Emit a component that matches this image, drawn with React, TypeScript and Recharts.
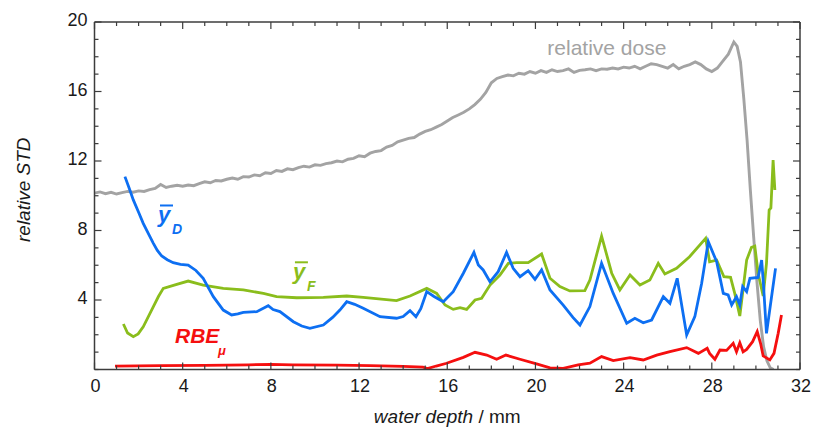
import React from 'react';
import { LineChart, Line, XAxis, YAxis, ReferenceDot, Label } from 'recharts';

// ---- data ----
const doseX = [0, 0.25, 0.5, 0.75, 1.0, 1.25, 1.5, 1.75, 2.0, 2.25, 2.5, 2.75, 3.0, 3.25, 3.5, 3.75, 4.0, 4.25, 4.5, 4.75, 5.0, 5.25, 5.5, 5.75, 6.0, 6.25, 6.5, 6.75, 7.0, 7.25, 7.5, 7.75, 8.0, 8.25, 8.5, 8.75, 9.0, 9.25, 9.5, 9.75, 10.0, 10.25, 10.5, 10.75, 11.0, 11.25, 11.5, 11.75, 12.0, 12.25, 12.5, 12.75, 13.0, 13.25, 13.5, 13.75, 14.0, 14.25, 14.5, 14.75, 15.0, 15.25, 15.5, 15.75, 16.0, 16.25, 16.5, 16.75, 17.0, 17.25, 17.5, 17.75, 18.0, 18.25, 18.5, 18.75, 19.0, 19.25, 19.5, 19.75, 20.0, 20.25, 20.5, 20.75, 21.0, 21.25, 21.5, 21.75, 22.0, 22.25, 22.5, 22.75, 23.0, 23.25, 23.5, 23.75, 24.0, 24.25, 24.5, 24.75, 25.0, 25.25, 25.5, 25.75, 26.0, 26.25, 26.5, 26.75, 27.0, 27.25, 27.5, 27.75, 28.0, 28.25, 28.5, 28.75, 29.0, 29.15, 29.3, 29.45, 29.6, 29.75, 29.9, 30.05, 30.2, 30.35, 30.5, 30.65, 30.8];
const doseY = [10.15, 10.22, 10.12, 10.2, 10.1, 10.18, 10.25, 10.2, 10.28, 10.25, 10.35, 10.42, 10.65, 10.48, 10.55, 10.6, 10.55, 10.62, 10.58, 10.7, 10.8, 10.75, 10.88, 10.85, 10.95, 11.02, 10.95, 11.1, 11.08, 11.2, 11.15, 11.32, 11.28, 11.45, 11.4, 11.55, 11.5, 11.62, 11.7, 11.65, 11.78, 11.75, 11.85, 11.9, 12.0, 11.95, 12.1, 12.15, 12.3, 12.25, 12.45, 12.55, 12.6, 12.8, 12.9, 13.1, 13.2, 13.3, 13.35, 13.55, 13.7, 13.8, 13.95, 14.1, 14.3, 14.5, 14.65, 14.8, 15.0, 15.25, 15.55, 15.95, 16.5, 16.75, 16.85, 16.95, 16.9, 17.05, 17.0, 17.15, 17.05, 17.2, 17.1, 17.25, 17.15, 17.2, 17.3, 17.1, 17.22, 17.25, 17.3, 17.2, 17.3, 17.28, 17.35, 17.3, 17.4, 17.35, 17.45, 17.3, 17.45, 17.6, 17.55, 17.45, 17.35, 17.55, 17.3, 17.45, 17.55, 17.7, 17.55, 17.3, 17.15, 17.35, 17.75, 18.15, 18.85, 18.6, 17.7, 15.6, 13.2, 10.3, 7.6, 5.0, 2.8, 1.3, 0.5, 0.1, 0];

const yDX = [1.38, 1.57, 1.76, 2.0, 2.21, 2.45, 2.67, 2.85, 3.05, 3.3, 3.57, 3.9, 4.25, 4.6, 4.93, 5.39, 5.84, 6.22, 6.5, 6.75, 7.36, 7.88, 8.1, 8.41, 9.02, 9.4, 9.77, 10.38, 10.8, 11.13, 11.44, 11.8, 12.19, 12.95, 13.7, 14.0, 14.31, 14.58, 14.8, 15.07, 15.4, 15.82, 16.27, 16.73, 17.21, 17.41, 17.63, 17.94, 18.31, 18.69, 18.99, 19.3, 19.67, 19.98, 20.28, 20.66, 21.26, 21.7, 22.02, 22.47, 23.0, 23.53, 24.14, 24.51, 24.89, 25.27, 25.8, 26.1, 26.43, 26.86, 27.23, 27.54, 27.84, 28.22, 28.52, 28.74, 28.9, 29.12, 29.27, 29.4, 29.58, 29.73, 30.1, 30.26, 30.33, 30.48, 30.71, 30.89];
const yDY = [11.1, 10.45, 9.76, 9.05, 8.41, 7.8, 7.26, 6.85, 6.53, 6.32, 6.15, 6.05, 6.01, 5.7, 5.25, 4.19, 3.42, 3.14, 3.2, 3.29, 3.33, 3.67, 3.45, 3.33, 2.75, 2.5, 2.37, 2.56, 3.0, 3.42, 3.9, 3.75, 3.52, 3.04, 2.95, 3.05, 3.39, 3.04, 3.5, 4.48, 4.2, 3.9, 4.48, 5.54, 6.74, 6.01, 5.73, 5.05, 5.63, 6.74, 5.82, 5.34, 5.69, 5.19, 5.73, 4.58, 3.71, 3.0, 2.56, 3.62, 6.11, 4.38, 2.66, 2.95, 2.69, 2.85, 4.19, 3.81, 5.25, 1.99, 3.04, 4.96, 7.36, 6.2, 4.38, 4.29, 3.71, 4.19, 3.71, 4.77, 4.48, 5.25, 5.3, 6.3, 5.15, 2.08, 4.19, 5.82];

const yFX = [1.31, 1.5, 1.76, 1.98, 2.21, 2.67, 2.9, 3.12, 3.73, 4.25, 4.93, 5.84, 6.75, 7.66, 8.26, 9.17, 10.38, 11.44, 12.19, 13.7, 14.31, 15.07, 15.52, 15.9, 16.27, 16.58, 16.88, 17.26, 17.56, 17.94, 18.39, 18.77, 19.15, 19.67, 20.28, 20.66, 21.11, 21.56, 22.24, 22.47, 23.0, 23.46, 23.83, 24.29, 24.74, 25.19, 25.57, 25.87, 26.4, 26.99, 27.72, 27.9, 28.22, 28.55, 28.85, 29.04, 29.27, 29.58, 29.8, 29.95, 30.1, 30.33, 30.48, 30.6, 30.68, 30.78, 30.86];
const yFY = [2.62, 2.1, 1.89, 2.05, 2.46, 3.62, 4.2, 4.67, 4.9, 5.09, 4.86, 4.67, 4.58, 4.38, 4.19, 4.13, 4.15, 4.23, 4.15, 3.96, 4.23, 4.67, 4.38, 3.71, 3.46, 3.56, 3.46, 4.0, 4.1, 4.86, 5.44, 6.11, 6.15, 6.15, 6.65, 5.25, 4.77, 4.52, 4.54, 5.15, 7.68, 5.54, 4.58, 5.44, 4.86, 5.15, 6.11, 5.5, 5.82, 6.49, 7.55, 6.2, 6.3, 5.34, 5.3, 4.38, 3.08, 6.3, 7.03, 7.1, 5.54, 4.23, 6.11, 9.18, 9.3, 12.06, 10.33];

const rbeX = [0.93, 3, 5, 7, 8, 9, 11, 12.5, 14, 14.9, 15.1, 15.5, 15.97, 16.73, 17.26, 17.79, 18.24, 18.66, 19.3, 20.05, 20.66, 21.26, 21.94, 22.47, 23.0, 23.53, 24.29, 24.89, 25.5, 26.1, 26.86, 27.39, 27.79, 27.9, 28.14, 28.37, 28.67, 28.97, 29.12, 29.27, 29.42, 29.58, 29.85, 30.06, 30.21, 30.33, 30.63, 30.82, 31.01, 31.16];
const rbeY = [0.2, 0.22, 0.24, 0.27, 0.3, 0.27, 0.25, 0.22, 0.18, 0.14, 0.05, 0.2, 0.36, 0.7, 0.99, 0.83, 0.59, 0.83, 0.59, 0.32, 0.09, 0.07, 0.26, 0.36, 0.74, 0.51, 0.68, 0.55, 0.83, 1.03, 1.26, 0.93, 1.22, 0.93, 0.59, 1.12, 1.1, 1.51, 1.02, 1.54, 1.02, 1.16, 1.6, 2.18, 1.51, 0.78, 0.55, 0.93, 2.08, 3.14];

const xTicks = [0, 1, 2, 3, 4, 5, 6, 7, 8, 9, 10, 11, 12, 13, 14, 15, 16, 17, 18, 19, 20, 21, 22, 23, 24, 25, 26, 27, 28, 29, 30, 31, 32];
const yTicks = [0, 1, 2, 3, 4, 5, 6, 7, 8, 9, 10, 11, 12, 13, 14, 15, 16, 17, 18, 19, 20];
const xLabelled = [0, 4, 8, 12, 16, 20, 24, 28, 32];
const yLabelled = [4, 8, 12, 16, 20];

const toPts = (xs: number[], ys: number[]) => xs.map((x, i) => ({ x, y: ys[i] }));
const doseData = toPts(doseX, doseY);
const yDData = toPts(yDX, yDY);
const yFData = toPts(yFX, yFY);
const rbeData = toPts(rbeX, rbeY);

// ---- styles ----
const FONT = '"Liberation Sans", Arial, sans-serif';
const AXIS = '#3c3c3c';
const GRAY = '#a3a3a3';
const BLUE = '#0d6ff2';
const GREEN = '#8abd1c';
const RED = '#f50f0f';
const MAJOR = 7;
const MINOR = 4;

const BottomTick = (p: any) => {
  const v = p.payload.value;
  const major = xLabelled.includes(v);
  return (
    <g>
      <line x1={p.x} x2={p.x} y1={p.y} y2={p.y - (major ? MAJOR : MINOR)} stroke={AXIS} strokeWidth={1.2} />
      {major && (
        <text x={p.x + 1} y={p.y + 22} textAnchor="middle" fontSize={18} fill="#1a1a1a" fontFamily={FONT}>
          {v}
        </text>
      )}
    </g>
  );
};
const TopTick = (p: any) => {
  const v = p.payload.value;
  const major = xLabelled.includes(v);
  return <line x1={p.x} x2={p.x} y1={p.y} y2={p.y + (major ? MAJOR : MINOR)} stroke={AXIS} strokeWidth={1.2} />;
};
const LeftTick = (p: any) => {
  const v = p.payload.value;
  const major = yLabelled.includes(v);
  return (
    <g>
      <line x1={p.x} x2={p.x + (major ? MAJOR : MINOR)} y1={p.y} y2={p.y} stroke={AXIS} strokeWidth={1.2} />
      {major && (
        <text x={p.x - 7} y={p.y + 4} textAnchor="end" fontSize={18} fill="#1a1a1a" fontFamily={FONT}>
          {v}
        </text>
      )}
    </g>
  );
};
const RightTick = (p: any) => {
  const v = p.payload.value;
  const major = yLabelled.includes(v);
  return <line x1={p.x} x2={p.x - (major ? MAJOR : MINOR)} y1={p.y} y2={p.y} stroke={AXIS} strokeWidth={1.2} />;
};

const BarLabel = ({ cx, cy, color, sub }: any) => (
  <g fontFamily={FONT} fontWeight="bold" fontStyle="italic" fill={color}>
    <line x1={cx + 2} x2={cx + 15} y1={cy - 16.5} y2={cy - 16.5} stroke={color} strokeWidth={2} />
    <text x={cx} y={cy} fontSize={22}>y</text>
    <text x={cx + 14} y={cy + 12} fontSize={14}>{sub}</text>
  </g>
);

export default function App() {
  return (
    <div style={{ position: 'absolute', left: 0, top: 0, width: 813, height: 432, background: '#fff' }}>
      <LineChart width={813} height={432} margin={{ top: 21, right: 12, bottom: 22.5, left: 34.5 }}>
        <XAxis
          xAxisId="b"
          type="number"
          dataKey="x"
          domain={[0, 32]}
          allowDataOverflow
          ticks={xTicks}
          interval={0}
          height={40}
          tickSize={0}
          tickMargin={0}
          tickLine={false}
          axisLine={{ stroke: AXIS, strokeWidth: 1.5 }}
          tick={<BottomTick />}
        >
          <Label
            content={(props: any) => {
              const vb = props.viewBox;
              return (
                <text x={vb.x + vb.width / 2} y={vb.y + 53} textAnchor="middle" fontSize={19} fill="#1a1a1a" fontFamily={FONT}>
                  <tspan fontStyle="italic">water depth</tspan>
                  <tspan> / mm</tspan>
                </text>
              );
            }}
          />
        </XAxis>
        <XAxis
          xAxisId="t"
          orientation="top"
          type="number"
          dataKey="x"
          domain={[0, 32]}
          allowDataOverflow
          ticks={xTicks}
          interval={0}
          height={1}
          tickSize={0}
          tickMargin={0}
          tickLine={false}
          axisLine={{ stroke: AXIS, strokeWidth: 1.5 }}
          tick={<TopTick />}
        />
        <YAxis
          yAxisId="l"
          type="number"
          domain={[0, 20]}
          allowDataOverflow
          ticks={yTicks}
          interval={0}
          width={60}
          tickSize={0}
          tickMargin={0}
          tickLine={false}
          axisLine={{ stroke: AXIS, strokeWidth: 1.5 }}
          tick={<LeftTick />}
        >
          <Label
            content={(props: any) => {
              const vb = props.viewBox;
              const x = vb.x - 5;
              const y = vb.y + vb.height / 2 - 6;
              return (
                <text x={x} y={y} transform={`rotate(-90, ${x}, ${y})`} textAnchor="middle" fontSize={19} fontStyle="italic" fill="#1a1a1a" fontFamily={FONT}>
                  relative STD
                </text>
              );
            }}
          />
        </YAxis>
        <YAxis
          yAxisId="r"
          orientation="right"
          type="number"
          domain={[0, 20]}
          allowDataOverflow
          ticks={yTicks}
          interval={0}
          width={1}
          tickSize={0}
          tickMargin={0}
          tickLine={false}
          axisLine={{ stroke: AXIS, strokeWidth: 1.5 }}
          tick={<RightTick />}
        />
        <Line xAxisId="t" yAxisId="r" data={doseData} dataKey="y" stroke="none" dot={false} isAnimationActive={false} />
        <Line xAxisId="b" yAxisId="l" data={doseData} dataKey="y" stroke={GRAY} strokeWidth={2.9} dot={false} isAnimationActive={false} type="linear" />
        <Line xAxisId="b" yAxisId="l" data={rbeData} dataKey="y" stroke={RED} strokeWidth={2.8} dot={false} isAnimationActive={false} type="linear" />
        <Line xAxisId="b" yAxisId="l" data={yFData} dataKey="y" stroke={GREEN} strokeWidth={2.8} dot={false} isAnimationActive={false} type="linear" />
        <Line xAxisId="b" yAxisId="l" data={yDData} dataKey="y" stroke={BLUE} strokeWidth={2.8} dot={false} isAnimationActive={false} type="linear" />
        <ReferenceDot
          xAxisId="b"
          yAxisId="l"
          x={23.24}
          y={18.1}
          r={0}
          ifOverflow="visible"
          shape={(p: any) => (
            <text x={p.cx} y={p.cy} textAnchor="middle" fontSize={21} fill={GRAY} fontFamily={FONT}>
              relative dose
            </text>
          )}
        />
        <ReferenceDot
          xAxisId="b"
          yAxisId="l"
          x={2.88}
          y={8.49}
          r={0}
          ifOverflow="visible"
          shape={(p: any) => <BarLabel cx={p.cx} cy={p.cy} color={BLUE} sub="D" />}
        />
        <ReferenceDot
          xAxisId="b"
          yAxisId="l"
          x={9.0}
          y={5.22}
          r={0}
          ifOverflow="visible"
          shape={(p: any) => <BarLabel cx={p.cx} cy={p.cy} color={GREEN} sub="F" />}
        />
        <ReferenceDot
          xAxisId="b"
          yAxisId="l"
          x={3.65}
          y={1.51}
          r={0}
          ifOverflow="visible"
          shape={(p: any) => (
            <g fontFamily={FONT} fontWeight="bold" fontStyle="italic" fill={RED}>
              <text x={p.cx} y={p.cy} fontSize={21}>RBE</text>
              <text x={p.cx + 43} y={p.cy + 12} fontSize={13}>μ</text>
            </g>
          )}
        />
      </LineChart>
    </div>
  );
}
